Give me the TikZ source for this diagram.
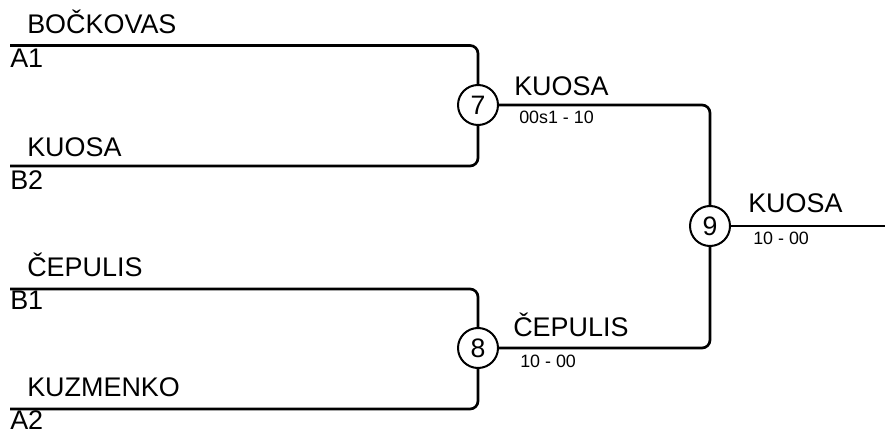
\documentclass[tikz,border=0pt]{standalone}
\usepackage{fontspec}
\setmainfont{Liberation Sans}
\usetikzlibrary{positioning}

\begin{document}
\begin{tikzpicture} [
			x=0.75pt,y=-0.75pt,
			every node/.style={inner sep=0pt},
			player/.style={anchor=base west,font=\fontsize{20.2}{22}\selectfont},
			seed/.style={anchor=base west,font=\fontsize{20.2}{22}\selectfont},
			score/.style={anchor=base west,font=\fontsize{13.4}{15}\selectfont},
			match/.style={draw,circle,fill=white,line width=1.5pt,minimum size=30pt,font=\fontsize{20}{22}\selectfont},
			wire/.style={draw,line width=2pt,rounded corners=6pt}
		]
			\useasboundingbox (0,0) rectangle (885,434);
			\coordinate (startA1) at (10,45.5);
			\coordinate (startB2) at (10,166);
			\coordinate (startB1) at (10,289);
			\coordinate (startA2) at (10,409);
			\coordinate (final) at (885,226);
			\node at (478,105) [match] (match7) {7};
			\node at (478,348) [match] (match8) {8};
			\node at (710,226) [match] (match9) {9};
			\node at (27,34) [player] (nameA1) {BOČKOVAS};
			\node at (10,68) [seed] (seedA1) {A1};
			\node at (27,157) [player] (nameB2) {KUOSA};
			\node at (10,190) [seed] (seedB2) {B2};
			\node at (27,277) [player] (nameB1) {ČEPULIS};
			\node at (10,310) [seed] (seedB1) {B1};
			\node at (27,397) [player] (nameA2) {KUZMENKO};
			\node at (10,429) [seed] (seedA2) {A2};
			\node at (514,96) [player] (win7) {KUOSA};
			\node at (519,124) [score] (res7) {00s1 - 10};
			\node at (513,337) [player] (win8) {ČEPULIS};
			\node at (520,368) [score] (res8) {10 - 00};
			\node at (748,213) [player] (win9) {KUOSA};
			\node at (753,245) [score] (res9) {10 - 00};
			\path[wire] (startA1) -| (match7.north);
			\path[wire] (startB2) -| (match7.south);
			\path[wire] (startB1) -| (match8.north);
			\path[wire] (startA2) -| (match8.south);
			\path[wire] (match7.east) -| (match9.north);
			\path[wire] (match8.east) -| (match9.south);
			\path[wire] (match9.east) -- (final);
		\end{tikzpicture}
\end{document}
